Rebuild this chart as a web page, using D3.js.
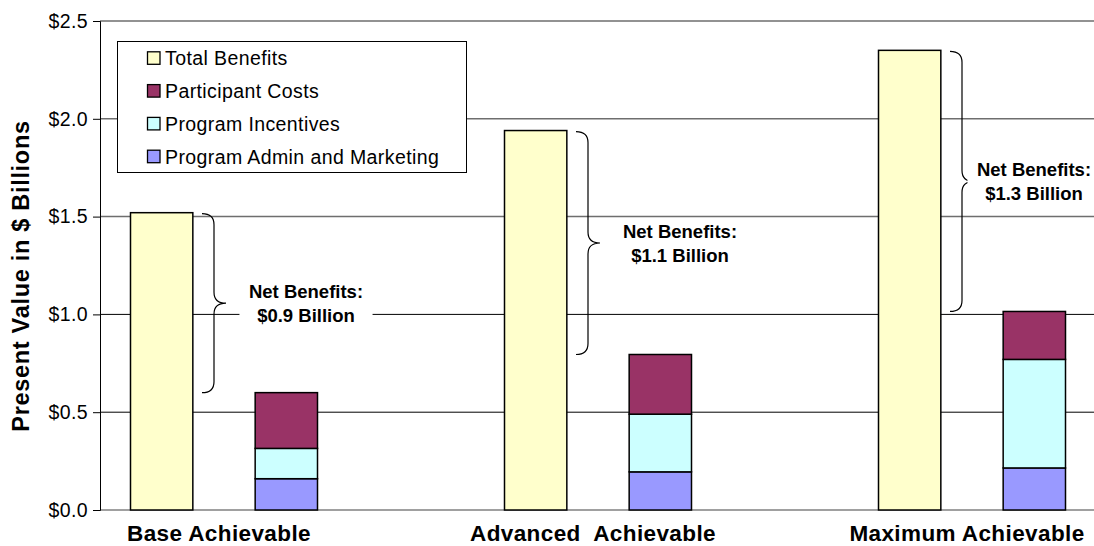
<!DOCTYPE html>
<html>
<head>
<meta charset="utf-8">
<script src="https://cdn.jsdelivr.net/npm/d3@7"></script>
<style>
  html, body { margin: 0; padding: 0; background: #fff; }
  svg { display: block; font-family: "Liberation Sans", Arial, sans-serif; }
  text { white-space: pre; }
</style>
</head>
<body>
<svg id="chart" width="1094" height="546"></svg>
<script>
// Scenario categories
const categories = ["Base Achievable", "Advanced  Achievable", "Maximum Achievable"];

// Present value, $ billions
const totalBenefits     = [1.52, 1.94, 2.35];
const programAdmin      = [0.16, 0.195, 0.215];
const programIncentives = [0.155, 0.295, 0.555];
const participantCosts  = [0.285, 0.305, 0.245];

// Net benefit annotations
const netLabels = ["$0.9 Billion", "$1.1 Billion", "$1.3 Billion"];

// Axis ticks
const yTicks = [0, 0.5, 1.0, 1.5, 2.0, 2.5];

// Legend entries
const seriesNames  = ["Total Benefits", "Participant Costs", "Program Incentives", "Program Admin and Marketing"];
const seriesColors = ["#FFFFCC", "#993366", "#CCFFFF", "#9999FF"];

const W = 1094, H = 546;
const svg = d3.select("#chart");

const plotLeft = 100, plotRight = W;
const x = d3.scaleBand().domain(categories).range([37, 1159]);
const xs = d3.scaleBand().domain(["benefits", "costs"])
  .range([0, x.bandwidth()]).paddingInner(0.5).paddingOuter(0.75);
const y = d3.scaleLinear().domain([0, 2.5]).range([510, 21]);

// Gridlines (upper ones render lighter)
svg.append("g").selectAll("line").data(yTicks.filter(d => d > 0)).join("line")
  .attr("x1", plotLeft).attr("x2", plotRight)
  .attr("y1", d => y(d)).attr("y2", d => y(d))
  .attr("stroke", d => d >= 1.5 ? "#6e6e6e" : "#000")
  .attr("stroke-width", d => d >= 1.5 ? 1.5 : 1);

// Baseline
svg.append("line")
  .attr("x1", plotLeft).attr("x2", plotRight)
  .attr("y1", y(0)).attr("y2", y(0))
  .attr("stroke", "#808080").attr("stroke-width", 1.5);

// Y axis
const yAxis = d3.axisLeft(y).tickValues(yTicks).tickFormat(d3.format("$.1f"))
  .tickSize(7).tickPadding(5);
const gy = svg.append("g").attr("transform", `translate(${plotLeft},0)`).call(yAxis);
gy.select(".domain").attr("stroke", "#000").attr("stroke-width", 1);
gy.selectAll(".tick line").attr("stroke", "#000");
gy.selectAll(".tick text")
  .attr("font-family", "'Liberation Sans', Arial, sans-serif")
  .attr("font-size", 19.5).attr("letter-spacing", 0.4).attr("fill", "#000");

// Y axis title
svg.append("text")
  .attr("transform", `translate(29,276) rotate(-90)`)
  .attr("text-anchor", "middle")
  .attr("font-size", 23.5).attr("font-weight", "bold").attr("letter-spacing", 0.7)
  .text("Present Value in $ Billions");

// Total benefits bars
svg.append("g").selectAll("rect").data(categories).join("rect")
  .attr("x", (c) => x(c) + xs("benefits"))
  .attr("width", xs.bandwidth())
  .attr("y", (c, i) => y(totalBenefits[i]))
  .attr("height", (c, i) => y(0) - y(totalBenefits[i]))
  .attr("fill", seriesColors[0]).attr("stroke", "#000").attr("stroke-width", 1.5);

// Stacked cost bars
const costRows = categories.map((c, i) => ({
  cat: c, admin: programAdmin[i], incentives: programIncentives[i], participant: participantCosts[i]
}));
const stack = d3.stack().keys(["admin", "incentives", "participant"]);
const stacked = stack(costRows);
const costColor = { admin: seriesColors[3], incentives: seriesColors[2], participant: seriesColors[1] };

svg.append("g").selectAll("g").data(stacked).join("g")
  .attr("fill", d => costColor[d.key])
  .selectAll("rect").data(d => d).join("rect")
  .attr("x", d => x(d.data.cat) + xs("costs"))
  .attr("width", xs.bandwidth())
  .attr("y", d => y(d[1]))
  .attr("height", d => y(d[0]) - y(d[1]))
  .attr("stroke", "#000").attr("stroke-width", 1.5);

// Category labels
svg.append("g").selectAll("text").data(categories).join("text")
  .attr("x", c => x(c) + x.bandwidth() / 2 - 5)
  .attr("y", 541)
  .attr("text-anchor", "middle")
  .attr("font-size", 22.5).attr("font-weight", "bold").attr("letter-spacing", 0.4)
  .text(c => c);

// Net benefit braces and labels
const costTotals = categories.map((c, i) => programAdmin[i] + programIncentives[i] + participantCosts[i]);
const braceG = svg.append("g");
categories.forEach((c, i) => {
  const top = y(totalBenefits[i]) + 1;
  const bot = y(costTotals[i]);
  const mid = (top + bot) / 2;
  const tip = x(c) + x.bandwidth() / 2 + 2;
  const stem = tip - 12;
  const left = tip - 24;
  const r = 11;
  const p = d3.path();
  p.moveTo(left, top);
  p.quadraticCurveTo(stem, top, stem, top + r);
  p.lineTo(stem, mid - r);
  p.quadraticCurveTo(stem, mid, tip, mid);
  p.quadraticCurveTo(stem, mid, stem, mid + r);
  p.lineTo(stem, bot - r);
  p.quadraticCurveTo(stem, bot, left, bot);
  braceG.append("path").attr("d", p.toString())
    .attr("fill", "none").attr("stroke", "#000").attr("stroke-width", 1.2);

  const cx = Math.min(tip + 80, W - 60);
  const lg = braceG.append("g");
  const bg = lg.append("rect").attr("fill", "#fff");
  const t = lg.append("text").attr("text-anchor", "middle")
    .attr("font-size", 18.5).attr("font-weight", "bold");
  t.append("tspan").attr("x", cx).attr("y", mid - 5).text("Net Benefits:");
  t.append("tspan").attr("x", cx).attr("y", mid + 18.5).text(netLabels[i]);
  const bb = t.node().getBBox();
  bg.attr("x", bb.x - 9.5).attr("y", bb.y - 3)
    .attr("width", bb.width + 19).attr("height", bb.height + 6);
});

// Legend
const lg = svg.append("g");
lg.append("rect").attr("x", 117.5).attr("y", 41.5).attr("width", 349).attr("height", 131)
  .attr("fill", "#fff").attr("stroke", "#000").attr("stroke-width", 1);
const rows = lg.selectAll("g.row").data(seriesNames).join("g").attr("class", "row")
  .attr("transform", (d, i) => `translate(147,${58.3 + i * 32.8})`);
rows.append("rect").attr("x", 0.5).attr("y", -6.5).attr("width", 12.5).attr("height", 12.5)
  .attr("fill", (d, i) => seriesColors[i]).attr("stroke", "#000").attr("stroke-width", 1.3);
rows.append("text").attr("x", 18).attr("y", 7)
  .attr("font-size", 19.5).attr("letter-spacing", 0.4).text(d => d);
</script>
</body>
</html>
